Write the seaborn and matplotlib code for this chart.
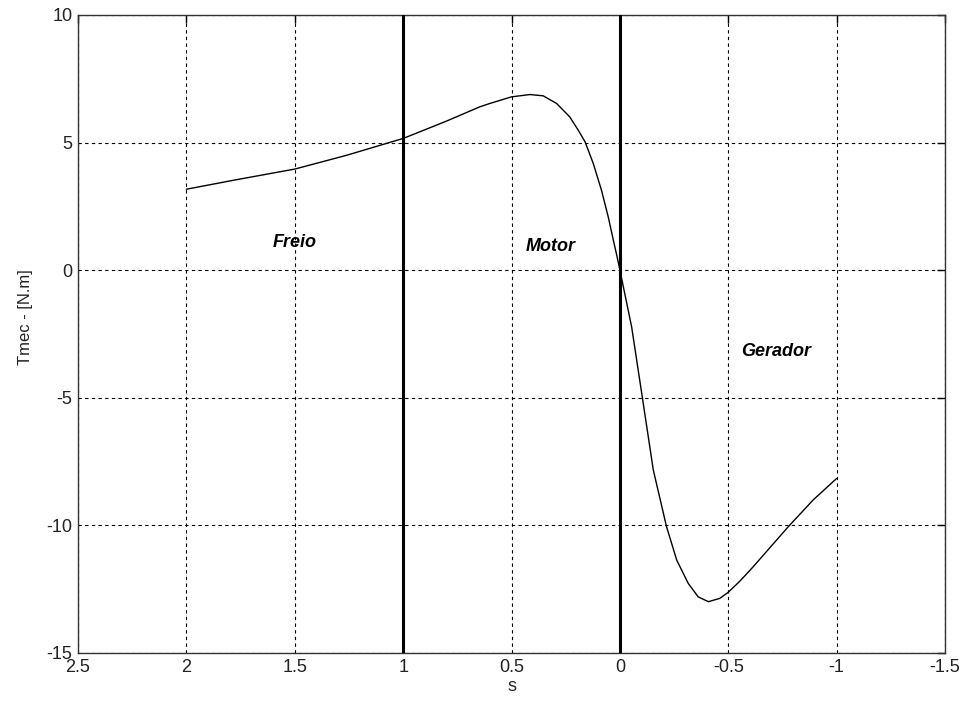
import numpy as np
import pandas as pd
import seaborn as sns
import matplotlib
matplotlib.use("Agg")
import matplotlib.pyplot as plt

# escorregamento (s) e torque mecânico
s = [2.0, 1.784, 1.5, 1.261, 1.0, 0.923, 0.8, 0.646, 0.6, 0.5, 0.415, 0.354,
     0.292, 0.231, 0.192, 0.161, 0.123, 0.085, 0.054, 0.031, 0.015, 0.0,
     -0.054, -0.103, -0.154, -0.215, -0.262, -0.315, -0.361, -0.408, -0.461,
     -0.5, -0.554, -0.615, -0.777, -0.892, -1.0]
tmec = [3.17, 3.52, 3.96, 4.5, 5.16, 5.42, 5.84, 6.4, 6.53, 6.79, 6.88, 6.83,
        6.53, 6.0, 5.48, 5.03, 4.18, 3.13, 2.09, 1.2, 0.6, 0.0,
        -2.22, -4.96, -7.83, -10.05, -11.36, -12.27, -12.8, -12.99, -12.86,
        -12.62, -12.18, -11.62, -10.05, -9.0, -8.16]

limites = [1, 0]
regioes = ["Freio", "Motor", "Gerador"]
regioes_s = [1.6, 0.434, -0.558]
regioes_t = [1.1, 0.94, -3.2]

xticks = [2.5, 2, 1.5, 1, 0.5, 0, -0.5, -1, -1.5]
xtick_labels = ["2.5", "2", "1.5", "1", "0.5", "0", "-0.5", "-1", "-1.5"]
yticks = [-15, -10, -5, 0, 5, 10]
ytick_labels = ["-15", "-10", "-5", "0", "5", "10"]

df = pd.DataFrame({"s": s, "Tmec": tmec})

sns.set_style("white")
plt.rcParams['font.family'] = ['Liberation Sans', 'DejaVu Sans']
plt.rcParams['axes.unicode_minus'] = False

fig = plt.figure(figsize=(9.61, 7.10), dpi=100)
ax = fig.add_axes([0.0812, 0.0803, 0.9022, 0.8987])

sns.lineplot(data=df, x="s", y="Tmec", sort=False, color="black",
             linewidth=1.0, ax=ax)

for lim in limites:
    ax.axvline(lim, color="black", linewidth=2.2, zorder=3)

for nome, xs, yt in zip(regioes, regioes_s, regioes_t):
    ax.text(xs, yt, nome, fontsize=13, fontweight="bold", fontstyle="italic",
            ha="left", va="center", color="black")

ax.set_xlim(2.5, -1.5)
ax.set_ylim(-15, 10)
ax.set_xticks(xticks)
ax.set_xticklabels(xtick_labels)
ax.set_yticks(yticks)
ax.set_yticklabels(ytick_labels)

ax.grid(True, color="black", linestyle=(0, (3, 3)), linewidth=0.8)
ax.tick_params(direction="in", length=6, width=1, top=True, right=True,
               labelsize=13, pad=4, colors="black", labelcolor="#222222")
for sp in ax.spines.values():
    sp.set_color("#333333")
    sp.set_linewidth(1.0)

ax.set_xlabel("s", fontsize=13, color="#222222", labelpad=2)
ax.set_ylabel("Tmec - [N.m]", fontsize=12, color="#222222")
ax.yaxis.set_label_coords(-0.052, 0.526)

fig.savefig("out.png", dpi=100)
